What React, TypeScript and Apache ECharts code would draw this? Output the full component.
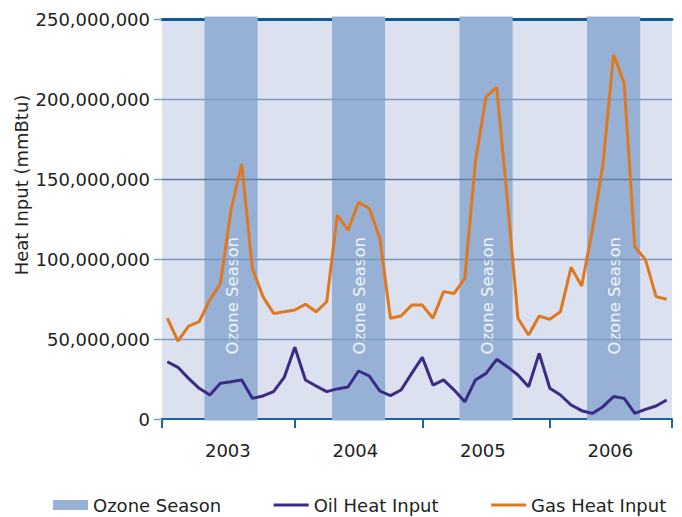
import React, { useEffect, useRef } from "react";
import * as echarts from "echarts";

// Monthly data, Jan 2003 – Dec 2006 (mmBtu)
const years = ["2003", "2004", "2005", "2006"];
const gasHeatInput = [
  63e6, 48.7e6, 58e6, 60.8e6, 74.4e6, 84.8e6, 130.6e6, 159.4e6, 94.2e6, 76.5e6, 66e6, 67e6,
  68.1e6, 71.7e6, 67e6, 73.3e6, 127.5e6, 118e6, 135.4e6, 131.7e6, 113e6, 63e6, 64.4e6, 71.2e6,
  71.2e6, 63e6, 79.6e6, 78.5e6, 88e6, 160.8e6, 201.5e6, 207.3e6, 137e6, 63e6, 52.5e6, 64.4e6,
  62.3e6, 67e6, 94.8e6, 83.1e6, 118e6, 159e6, 227.8e6, 209.8e6, 107.7e6, 99.6e6, 76.5e6, 74.8e6,
];
const oilHeatInput = [
  35.8e6, 32.3e6, 25.4e6, 19.2e6, 15e6, 22.3e6, 23.3e6, 24.4e6, 12.9e6, 14.4e6, 17.1e6, 26e6,
  44.8e6, 24.4e6, 20.6e6, 17.1e6, 18.8e6, 20e6, 30e6, 26.9e6, 17.5e6, 14.6e6, 18.1e6, 28.5e6,
  38.5e6, 21.2e6, 24.4e6, 18.1e6, 10.8e6, 24.4e6, 28.5e6, 37.3e6, 32.7e6, 27.5e6, 20.2e6, 41e6,
  19.2e6, 15e6, 8.75e6, 5.2e6, 3.5e6, 7.7e6, 14e6, 12.9e6, 3.5e6, 6e6, 8.1e6, 11.9e6,
];
// Ozone season: May (month index 4) through September (inclusive)
const ozoneFirstMonth = 4;
const ozoneLastMonth = 8;
const yTicks = [0, 50e6, 100e6, 150e6, 200e6, 250e6];

const FONT = "DejaVu Sans";
const hiddenSymbol = { color: "rgba(0,0,0,0)", borderWidth: 0, opacity: 0 };

export default function App() {
  const ref = useRef<HTMLDivElement>(null);
  useEffect(() => {
    document.body.style.margin = "0";
    const chart = echarts.init(ref.current!, null, { renderer: "svg" });
    const yMax = yTicks[yTicks.length - 1];
    const nMonths = years.length * 12;
    const bands = years.map((_, k) => [k * 12 + ozoneFirstMonth, k * 12 + ozoneLastMonth + 1]);
    const tickPositions = [0, ...years.slice(1).map((_, k) => (k + 1) * 12 + 0.5), nMonths];
    const labelPositions = years.map((_, k) => k * 12 + 6.2);

    chart.setOption({
      animation: false,
      grid: {
        left: 162,
        right: 10,
        top: 19,
        bottom: 98,
        show: true,
        backgroundColor: "#dbe1ee",
        borderWidth: 0,
      },
      legend: {
        left: 48,
        top: 491,
        itemGap: 51,
        itemWidth: 35,
        itemHeight: 10,
        textStyle: { fontFamily: FONT, fontSize: 18, color: "#231f20" },
        data: [
          { name: "Ozone Season", icon: "rect", itemStyle: { color: "#96b1d5" } },
          { name: "Oil Heat Input", itemStyle: hiddenSymbol, lineStyle: { width: 3, color: "#3b2a86" } },
          { name: "Gas Heat Input", itemStyle: hiddenSymbol, lineStyle: { width: 3, color: "#e07820" } },
        ],
      },
      xAxis: [
        {
          type: "value",
          min: 0,
          max: nMonths,
          position: "bottom",
          z: 0,
          splitLine: { show: false },
          axisLine: { show: true, onZero: false, lineStyle: { color: "#1c63a6", width: 2 } },
          axisTick: {
            show: true,
            length: 9,
            customValues: tickPositions,
            lineStyle: { color: "#1c63a6", width: 2 },
          },
          axisLabel: {
            show: true,
            customValues: labelPositions,
            margin: 22,
            fontFamily: FONT,
            fontSize: 18,
            color: "#231f20",
            formatter: (v: number) => years[Math.floor(v / 12)],
          },
        },
        {
          type: "value",
          min: 0,
          max: nMonths,
          position: "top",
          z: 0,
          splitLine: { show: false },
          axisLine: { show: true, onZero: false, lineStyle: { color: "#0f5a9d", width: 3 } },
          axisTick: { show: false },
          axisLabel: { show: false },
        },
      ],
      yAxis: {
        type: "value",
        min: 0,
        max: yMax,
        interval: 50e6,
        z: 3,
        axisLine: { show: false },
        axisTick: { show: true, length: 8, lineStyle: { color: "#7896bd", width: 1.3 } },
        axisLabel: {
          margin: 12,
          fontFamily: FONT,
          fontSize: 18,
          color: "#231f20",
          formatter: (v: number) => (v === 0 ? "0" : v.toLocaleString("en-US")),
        },
        splitLine: {
          show: true,
          lineStyle: {
            width: 1.3,
            color: ["rgba(0,0,0,0)", "#7c9cc6", "#7896bd", "#5e7ea6", "#7c9cc6", "rgba(0,0,0,0)"],
          },
        },
      },
      series: [
        {
          name: "Ozone Season",
          type: "custom",
          z: 1,
          xAxisIndex: 0,
          itemStyle: { color: "#96b1d5" },
          data: bands,
          renderItem: (_params: any, api: any) => {
            const s = api.value(0);
            const e = api.value(1);
            const p0 = api.coord([s, yMax]);
            const p1 = api.coord([e, 0]);
            const lbl = api.coord([(s + e) / 2, 77e6]);
            return {
              type: "group",
              children: [
                {
                  type: "rect",
                  shape: { x: p0[0], y: p0[1] - 2.5, width: p1[0] - p0[0], height: p1[1] - p0[1] + 4 },
                  style: { fill: "#96b1d5" },
                },
                {
                  type: "text",
                  x: lbl[0] + 1,
                  y: lbl[1],
                  rotation: Math.PI / 2,
                  style: {
                    text: "Ozone Season",
                    fill: "#f2f5fa",
                    fontFamily: FONT,
                    fontSize: 16.5,
                    align: "center",
                    verticalAlign: "middle",
                  },
                },
              ],
            };
          },
        },
        {
          name: "Oil Heat Input",
          type: "line",
          z: 4,
          symbol: "none",
          color: "#3b2a86",
          lineStyle: { color: "#3b2a86", width: 3 },
          data: oilHeatInput.map((v, i) => [i + 0.5, v]),
        },
        {
          name: "Gas Heat Input",
          type: "line",
          z: 5,
          symbol: "none",
          color: "#e07820",
          lineStyle: { color: "#e07820", width: 3 },
          data: gasHeatInput.map((v, i) => [i + 0.5, v]),
        },
      ],
      graphic: [
        {
          type: "text",
          x: 21,
          y: 185,
          rotation: Math.PI / 2,
          style: {
            text: "Heat Input (mmBtu)",
            fontFamily: FONT,
            fontSize: 18,
            fill: "#231f20",
            align: "center",
            verticalAlign: "middle",
          },
        },
      ],
    });
    return () => chart.dispose();
  }, []);
  return <div ref={ref} style={{ width: 682, height: 517 }} />;
}
